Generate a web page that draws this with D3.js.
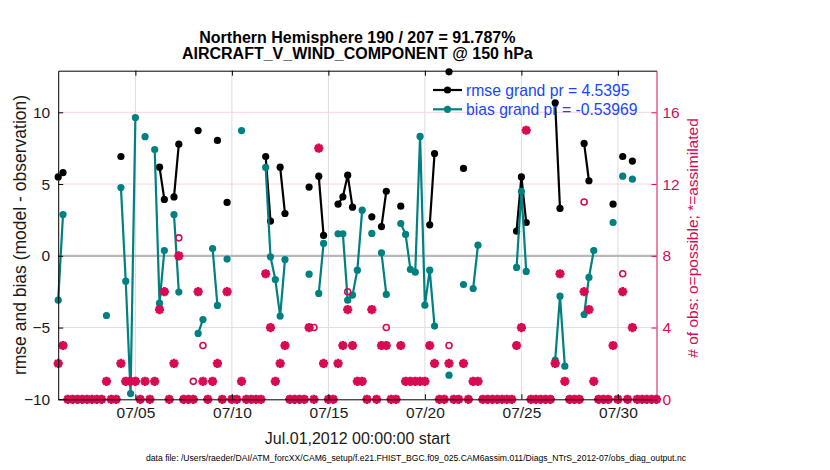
<!DOCTYPE html>
<html>
<head>
<meta charset="utf-8">
<script src="https://cdn.jsdelivr.net/npm/d3@7"></script>
<style>
  body { margin: 0; background: #fff; }
  svg { font-family: "Liberation Sans", Arial, Helvetica, sans-serif; }
</style>
</head>
<body>
<svg id="chart" width="830" height="470"></svg>
<script>
// Data (one value per 6-hour bin, 2012-07-01 00Z .. 2012-08-01 00Z), N = no obs
const N = null;
const firstBin = Date.UTC(2012, 6, 1, 0);
const lastBin = Date.UTC(2012, 7, 1, 0);
const binHours = 6;

const rmseVals = [
  5.5, 5.8, N, N, N, N, N, N, N, N,
  N, N, N, 6.92, N, N, N, N, N, N,
  N, 6.18, 3.93, N, 4.1, 7.78, N, N, N, 8.73,
  N, N, N, 8.04, N, 3.72, N, N, N, N,
  N, N, N, 6.92, 2.42, N, 6.18, 2.95, N, N,
  N, N, 4.79, N, 5.55, 1.42, N, N, 3.6, 4.11,
  5.62, 3.39, N, N, N, 2.72, N, 2.04, 4.5, N,
  N, 3.46, N, N, N, N, N, 2.16, 7.13, N,
  N, 12.82, N, N, 6.09, N, N, N, N, N,
  N, N, N, N, N, 1.72, 5.5, 2.32, N, N,
  N, N, N, 10.66, 3.3, N, N, N, N, 7.83,
  5.23, N, N, N, N, 3.6, N, 6.92, N, 6.6,
  N, N, N, N, N
];

const biasVals = [
  -3.09, 2.88, N, N, N, N, N, N, N, N,
  -4.16, N, N, 4.76, -1.77, -9.6, 9.64, N, 8.3, N,
  7.41, -3.3, 0.37, N, 2.88, -2.53, N, N, N, -5.41,
  -4.44, N, 0.51, -3.46, N, -0.23, N, N, 8.73, N,
  N, N, N, 6.16, -0.07, -1.65, -4.2, -0.26, N, N,
  N, N, -1.28, N, -2.62, 0.86, N, N, 1.53, 1.53,
  -3.09, -2.74, -1.0, 3.18, N, 1.56, N, 0.21, -2.69, N,
  N, 2.25, 1.49, -0.95, -1.14, 8.32, -3.44, -1.0, -4.9, N,
  N, -8.32, N, N, -2.0, N, -2.28, 0.74, N, N,
  N, N, N, N, N, -0.81, 4.5, -1.09, N, N,
  N, N, N, -7.27, -2.81, -7.69, N, N, N, -4.09,
  -1.51, 0.37, N, N, N, 2.32, N, 5.55, N, 5.34,
  N, N, N, N, N
];

const nPossible = [
  2, 3, 0, 0, 0, 0, 0, 0, 0, 0,
  1, 0, 0, 2, 1, 1, 1, 0, 1, 0,
  1, 5, 6, 0, 2, 9, 0, 0, 1, 6,
  3, 0, 1, 2, 0, 6, 0, 0, 1, 0,
  0, 0, 0, 7, 4, 1, 2, 3, 0, 0,
  0, 0, 4, 4, 14, 2, 0, 0, 2, 3,
  6, 3, 1, 1, 0, 5, 0, 3, 4, 0,
  0, 3, 1, 1, 1, 1, 1, 3, 2, 0,
  0, 3, 0, 0, 2, 0, 1, 1, 0, 0,
  0, 0, 0, 0, 0, 3, 4, 15, 0, 0,
  0, 0, 0, 2, 7, 1, 0, 0, 0, 11,
  5, 1, 0, 0, 0, 3, 0, 7, 0, 4,
  0, 0, 0, 0, 0
];

const nUsed = [
  2, 3, 0, 0, 0, 0, 0, 0, 0, 0,
  1, 0, 0, 2, 1, 1, 1, 0, 1, 0,
  1, 5, 6, 0, 2, 8, 0, 0, 0, 6,
  1, 0, 1, 2, 0, 6, 0, 0, 1, 0,
  0, 0, 0, 7, 4, 1, 2, 3, 0, 0,
  0, 0, 4, 0, 14, 2, 0, 0, 2, 3,
  5, 3, 1, 1, 0, 5, 0, 3, 3, 0,
  0, 3, 1, 1, 1, 1, 1, 3, 2, 0,
  0, 2, 0, 0, 2, 0, 1, 1, 0, 0,
  0, 0, 0, 0, 0, 3, 4, 15, 0, 0,
  0, 0, 0, 2, 7, 1, 0, 0, 0, 6,
  5, 1, 0, 0, 0, 3, 0, 6, 0, 4,
  0, 0, 0, 0, 0
];

const xTickDates = ['2012-07-05', '2012-07-10', '2012-07-15', '2012-07-20', '2012-07-25', '2012-07-30'];
const leftTicks = [-10, -5, 0, 5, 10];
const rightTicks = [0, 4, 8, 12, 16];
const legendLabels = ['rmse grand pr = 4.5395', 'bias grand pr = -0.53969'];
const titleLines = ['Northern Hemisphere 190 / 207 = 91.787%', 'AIRCRAFT_V_WIND_COMPONENT @ 150 hPa'];
const xLabel = 'Jul.01,2012 00:00:00 start';
const yLabelLeft = 'rmse and bias (model - observation)';
const yLabelRight = '# of obs: o=possible; *=assimilated';
const footer = 'data file: /Users/raeder/DAI/ATM_forcXX/CAM6_setup/f.e21.FHIST_BGC.f09_025.CAM6assim.011/Diags_NTrS_2012-07/obs_diag_output.nc';

const rmseColor = '#000000';
const biasColor = '#008080';
const obsColor = '#d70a53';

const svg = d3.select('#chart');
const margin = { top: 70.7, left: 58.2, right: 830 - 656.5, bottom: 470 - 399.3 };
const width = 830 - margin.left - margin.right;
const height = 470 - margin.top - margin.bottom;

const bins = rmseVals.map((d, i) => ({
  t: new Date(firstBin + i * binHours * 3600e3),
  rmse: d,
  bias: biasVals[i],
  poss: nPossible[i],
  used: nUsed[i]
}));

const x = d3.scaleUtc()
  .domain([new Date(firstBin), new Date(lastBin)])
  .range([0, width]);

const yL = d3.scaleLinear().domain([-10, 12.9]).range([height, 0]);
const yR = d3.scaleLinear().domain([0, (12.9 + 10) * 0.8]).range([height, 0]);

const g = svg.append('g').attr('transform', `translate(${margin.left},${margin.top})`);
const tickDates = xTickDates.map(s => new Date(s + 'T00:00:00Z'));

// Grid
g.selectAll('.vgrid').data(tickDates).enter().append('line')
  .attr('x1', d => x(d)).attr('x2', d => x(d))
  .attr('y1', 0).attr('y2', height)
  .attr('stroke', '#dcdcdc').attr('stroke-width', 1);

g.selectAll('.hgrid').data(rightTicks.filter(d => d > 0)).enter().append('line')
  .attr('x1', 0).attr('x2', width)
  .attr('y1', d => yR(d)).attr('y2', d => yR(d))
  .attr('stroke', '#f8d4e0').attr('stroke-width', 1);

// zero line
g.append('line')
  .attr('x1', 0).attr('x2', width)
  .attr('y1', yL(0)).attr('y2', yL(0))
  .attr('stroke', '#b8b8b8').attr('stroke-width', 2.2);

// rmse + bias
function series(key, color) {
  const line = d3.line()
    .defined(d => d[key] != null)
    .x(d => x(d.t))
    .y(d => yL(d[key]));
  g.append('path')
    .datum(bins)
    .attr('d', line)
    .attr('fill', 'none')
    .attr('stroke', color)
    .attr('stroke-width', 2.2)
    .attr('stroke-linejoin', 'round');
  g.selectAll('.dot-' + key)
    .data(bins.filter(d => d[key] != null))
    .enter().append('circle')
    .attr('cx', d => x(d.t))
    .attr('cy', d => yL(d[key]))
    .attr('r', 3.6)
    .attr('fill', color);
}
series('rmse', rmseColor);
series('bias', biasColor);

// obs counts
g.selectAll('.poss').data(bins).enter().append('circle')
  .attr('cx', d => x(d.t))
  .attr('cy', d => yR(d.poss))
  .attr('r', 3)
  .attr('fill', 'none')
  .attr('stroke', obsColor)
  .attr('stroke-width', 1.6);

const starPath = 'M-4.6,0H4.6M0,-4.6V4.6M-3.3,-3.3L3.3,3.3M-3.3,3.3L3.3,-3.3';
g.selectAll('.used').data(bins).enter().append('path')
  .attr('transform', d => `translate(${x(d.t)},${yR(d.used)})`)
  .attr('d', starPath)
  .attr('fill', 'none')
  .attr('stroke', obsColor)
  .attr('stroke-width', 2.7);

// Axes
const fontSize = '15.5px';
const xAxis = g.append('g')
  .attr('transform', `translate(0,${height})`)
  .call(d3.axisBottom(x).tickValues(tickDates).tickFormat(d3.utcFormat('%m/%d'))
    .tickSizeInner(-5).tickSizeOuter(0).tickPadding(8));
g.append('g')
  .call(d3.axisTop(x).tickValues(tickDates).tickFormat('')
    .tickSizeInner(-5).tickSizeOuter(0));
const leftAxis = g.append('g')
  .call(d3.axisLeft(yL).tickValues(leftTicks).tickSizeInner(-5).tickSizeOuter(0).tickPadding(8));
const rightAxis = g.append('g')
  .attr('transform', `translate(${width},0)`)
  .call(d3.axisRight(yR).tickValues(rightTicks).tickSizeInner(-5).tickSizeOuter(0).tickPadding(6));

[xAxis, leftAxis].forEach(a => {
  a.selectAll('path, line').attr('stroke', '#000');
  a.selectAll('text').attr('fill', '#1a1a1a').style('font-size', fontSize).style('font-family', 'inherit');
});
rightAxis.selectAll('path, line').attr('stroke', obsColor);
rightAxis.selectAll('text').attr('fill', obsColor).style('font-size', fontSize).style('font-family', 'inherit');

// Legend
const legend = g.append('g').attr('transform', `translate(${433 - margin.left},0)`);
[[rmseColor, 90 - margin.top], [biasColor, 109.3 - margin.top]].forEach((p, i) => {
  legend.append('line').attr('x1', 0).attr('x2', 29).attr('y1', p[1]).attr('y2', p[1])
    .attr('stroke', p[0]).attr('stroke-width', 2.2);
  legend.append('circle').attr('cx', 14.5).attr('cy', p[1]).attr('r', 3.6).attr('fill', p[0]);
  legend.append('text').attr('x', 33).attr('y', p[1] + 5.6)
    .attr('fill', '#1546ff').style('font-size', '15.7px')
    .text(legendLabels[i]);
});

// Titles and labels
const cx = margin.left + width / 2;
svg.selectAll('.title').data(titleLines).enter().append('text')
  .attr('x', cx)
  .attr('y', (d, i) => 42.6 + i * 16.8)
  .attr('text-anchor', 'middle')
  .style('font-size', '16px')
  .style('font-weight', 'bold')
  .text(d => d);

svg.append('text')
  .attr('x', cx).attr('y', 444.4)
  .attr('text-anchor', 'middle')
  .attr('fill', '#1a1a1a')
  .style('font-size', '16px')
  .text(xLabel);

svg.append('text')
  .attr('transform', 'rotate(-90)')
  .attr('x', -(margin.top + height / 2)).attr('y', 26)
  .attr('text-anchor', 'middle')
  .attr('fill', '#1a1a1a')
  .style('font-size', '17.5px')
  .text(yLabelLeft);

svg.append('text')
  .attr('transform', 'rotate(-90)')
  .attr('x', -238).attr('y', 698)
  .attr('text-anchor', 'middle')
  .attr('fill', obsColor)
  .style('font-size', '15.5px')
  .text(yLabelRight);

svg.append('text')
  .attr('x', 416).attr('y', 460.5)
  .attr('text-anchor', 'middle')
  .attr('textLength', 540)
  .attr('lengthAdjust', 'spacingAndGlyphs')
  .style('font-size', '8.5px')
  .text(footer);
</script>
</body>
</html>
